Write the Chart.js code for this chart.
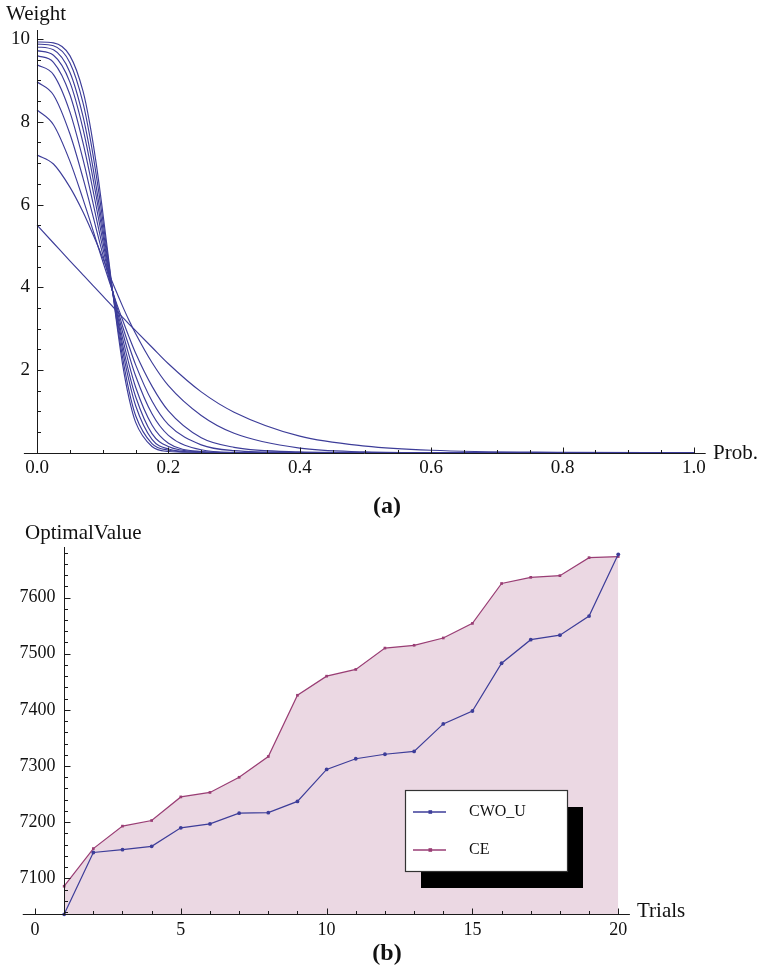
<!DOCTYPE html>
<html><head><meta charset="utf-8">
<script src="https://cdn.jsdelivr.net/npm/chart.js@4/dist/chart.umd.min.js"></script>
<style>
html,body{margin:0;padding:0;background:#fff;}
#wrap{position:relative;width:760px;height:968px;overflow:hidden;}
canvas{position:absolute;left:0;top:0;}
</style></head><body>
<div id="wrap">
<canvas id="ca" width="760" height="968"></canvas>
<canvas id="cb" width="760" height="968"></canvas>
</div>
<script>
// ---------- Panel (a): Weight vs Prob. ----------
const probValues = [0, 0.025, 0.05, 0.07, 0.08, 0.09, 0.1, 0.11, 0.12, 0.13, 0.14, 0.15, 0.175, 0.2, 0.25, 0.3, 0.4, 0.5, 0.6, 0.8, 1.0];
const weight1  = [9.93, 9.91, 9.60, 8.74, 7.98, 7.00, 5.82, 4.55, 3.28, 2.16, 1.32, 0.74, 0.15, 0.03, 0, 0, 0, 0, 0, 0, 0];
const weight2  = [9.88, 9.84, 9.43, 8.46, 7.68, 6.73, 5.63, 4.48, 3.34, 2.33, 1.50, 0.90, 0.22, 0.06, 0.005, 0, 0, 0, 0, 0, 0];
const weight3  = [9.81, 9.74, 9.20, 8.13, 7.35, 6.44, 5.44, 4.41, 3.41, 2.50, 1.74, 1.14, 0.32, 0.09, 0.01, 0, 0, 0, 0, 0, 0];
const weight4  = [9.72, 9.61, 8.96, 7.83, 7.07, 6.21, 5.29, 4.35, 3.46, 2.64, 1.93, 1.36, 0.46, 0.15, 0.02, 0, 0, 0, 0, 0, 0];
const weight5  = [9.60, 9.44, 8.66, 7.49, 6.76, 5.96, 5.13, 4.30, 3.51, 2.78, 2.14, 1.59, 0.67, 0.23, 0.03, 0.005, 0, 0, 0, 0, 0];
const weight6  = [9.38, 9.14, 8.24, 7.09, 6.41, 5.69, 4.96, 4.25, 3.56, 2.93, 2.36, 1.86, 0.94, 0.42, 0.07, 0.01, 0, 0, 0, 0, 0];
const weight7  = [8.97, 8.65, 7.71, 6.64, 6.04, 5.42, 4.80, 4.19, 3.62, 3.07, 2.58, 2.13, 1.25, 0.68, 0.19, 0.05, 0.005, 0, 0, 0, 0];
const weight8  = [8.29, 7.93, 7.05, 6.13, 5.64, 5.13, 4.63, 4.14, 3.66, 3.22, 2.80, 2.41, 1.61, 1.01, 0.36, 0.13, 0.02, 0.003, 0, 0, 0];
const weight9  = [7.20, 6.98, 6.42, 5.82, 5.47, 5.10, 4.71, 4.31, 3.92, 3.55, 3.20, 2.88, 2.18, 1.62, 0.90, 0.47, 0.11, 0.02, 0, 0, 0];
const weight10 = [5.50, 5.07, 4.64, 4.30, 4.13, 3.96, 3.79, 3.62, 3.45, 3.28, 3.11, 2.95, 2.55, 2.15, 1.47, 0.98, 0.40, 0.16, 0.06, 0.01, 0];
const weightCurves = [weight1, weight2, weight3, weight4, weight5, weight6, weight7, weight8, weight9, weight10];

const probTicks = [0, 0.2, 0.4, 0.6, 0.8, 1.0];
const probTickLabels = ['0.0', '0.2', '0.4', '0.6', '0.8', '1.0'];
const weightTicks = [2, 4, 6, 8, 10];
const weightTickLabels = ['2', '4', '6', '8', '10'];

// ---------- Panel (b): OptimalValue vs Trials ----------
const trials = [1, 2, 3, 4, 5, 6, 7, 8, 9, 10, 11, 12, 13, 14, 15, 16, 17, 18, 19, 20];
const cwoU = [7036, 7146, 7151, 7157, 7190, 7197, 7216, 7217, 7237, 7294, 7313, 7321, 7326, 7375, 7398, 7483, 7525, 7533, 7567, 7677];
const ce   = [7086, 7153, 7193, 7203, 7245, 7253, 7280, 7317, 7426, 7460, 7472, 7510, 7515, 7528, 7554, 7625, 7636, 7639, 7671, 7673];
const seriesNames = ['CWO_U', 'CE'];

const trialTicks = [0, 5, 10, 15, 20];
const trialTickLabels = ['0', '5', '10', '15', '20'];
const valueTicks = [7100, 7200, 7300, 7400, 7500, 7600];
const valueTickLabels = ['7100', '7200', '7300', '7400', '7500', '7600'];

const BLUE = '#3d3d99';
const PURPLE = '#993d74';
const FILL = 'rgba(153,61,116,0.2)';
const SERIF = '"Liberation Serif", "DejaVu Serif", serif';

function range(a, b, step) { const r = []; for (let v = a; v <= b + 1e-9; v += step) r.push(+v.toFixed(4)); return r; }

const mathAxes = {
  id: 'mathAxes',
  afterDraw(chart, args, o) {
    const { ctx, chartArea: ca } = chart;
    const xs = chart.scales.x, ys = chart.scales.y;
    const ax = Math.round(xs.getPixelForValue(o.yAxisAtX)) + 0.5;
    const ay = Math.round(ys.getPixelForValue(o.xAxisAtY)) + 0.5;
    ctx.save();
    ctx.strokeStyle = '#1a1a1a';
    ctx.lineWidth = 1;
    ctx.beginPath();
    ctx.moveTo(ca.left, ay); ctx.lineTo(ca.right, ay);
    ctx.moveTo(ax, ca.top); ctx.lineTo(ax, ay);
    o.xMinor.forEach(v => { const p = Math.round(xs.getPixelForValue(v)) + 0.5; ctx.moveTo(p, ay); ctx.lineTo(p, ay - 3.5); });
    o.xMajor.forEach(v => { const p = Math.round(xs.getPixelForValue(v)) + 0.5; ctx.moveTo(p, ay); ctx.lineTo(p, ay - 6); });
    o.yMinor.forEach(v => { const p = Math.round(ys.getPixelForValue(v)) + 0.5; ctx.moveTo(ax, p); ctx.lineTo(ax + 3.5, p); });
    o.yMajor.forEach(v => { const p = Math.round(ys.getPixelForValue(v)) + 0.5; ctx.moveTo(ax, p); ctx.lineTo(ax + 6, p); });
    ctx.stroke();

    ctx.fillStyle = '#111';
    ctx.font = o.tickFont + 'px ' + SERIF;
    ctx.textBaseline = 'middle';
    ctx.textAlign = 'center';
    o.xMajor.forEach((v, i) => ctx.fillText(o.xLabels[i], xs.getPixelForValue(v), ay + o.xGap));
    ctx.textAlign = 'right';
    o.yMajor.forEach((v, i) => ctx.fillText(o.yLabels[i], ax - o.yGap, ys.getPixelForValue(v)));

    ctx.font = '21px ' + SERIF;
    ctx.textAlign = 'left';
    ctx.fillText(o.xTitle, o.xTitlePos[0], o.xTitlePos[1]);
    ctx.fillText(o.yTitle, o.yTitlePos[0], o.yTitlePos[1]);

    ctx.font = 'bold 24px ' + SERIF;
    ctx.textAlign = 'center';
    ctx.fillText(o.panel, o.panelPos[0], o.panelPos[1]);

    if (o.legend) {
      const L = o.legend;
      ctx.fillStyle = '#000';
      ctx.fillRect(L.x + 16, L.y + 17, L.w, L.h);
      ctx.fillStyle = '#fff';
      ctx.fillRect(L.x, L.y, L.w, L.h);
      ctx.strokeStyle = '#333';
      ctx.lineWidth = 1.2;
      ctx.strokeRect(L.x + 0.5, L.y + 0.5, L.w, L.h);
      ctx.font = '16px ' + SERIF;
      ctx.textAlign = 'left';
      ctx.textBaseline = 'middle';
      chart.data.datasets.forEach((ds, i) => {
        const yy = L.y + 22 + i * 38;
        ctx.strokeStyle = ds.borderColor;
        ctx.lineWidth = 1.3;
        ctx.beginPath(); ctx.moveTo(L.x + 8, yy); ctx.lineTo(L.x + 41, yy); ctx.stroke();
        ctx.fillStyle = ds.borderColor;
        ctx.fillRect(L.x + 23.5, yy - 1.8, 3.6, 3.6);
        ctx.fillStyle = '#111';
        ctx.fillText(ds.label, L.x + 64, yy);
      });
    }
    ctx.restore();
  }
};

// ----- Chart (a)
new Chart(document.getElementById('ca'), {
  type: 'line',
  data: {
    datasets: weightCurves.map((w, i) => ({
      label: 'curve' + (i + 1),
      data: probValues.map((p, j) => ({ x: p, y: w[j] })),
      borderColor: BLUE,
      borderWidth: 1.15,
      pointRadius: 0,
      fill: false,
      cubicInterpolationMode: 'monotone'
    }))
  },
  options: {
    responsive: false,
    animation: false,
    events: [],
    layout: { padding: { left: 23.9, right: 54.3, top: 30, bottom: 515.3 } },
    scales: {
      x: { type: 'linear', min: -0.02, max: 1.018, display: false },
      y: { type: 'linear', min: 0, max: 10.22, display: false }
    },
    plugins: {
      legend: { display: false },
      tooltip: { enabled: false },
      mathAxes: {
        yAxisAtX: 0, xAxisAtY: 0,
        xMajor: probTicks, xLabels: probTickLabels, xMinor: range(0, 1.0, 0.05),
        yMajor: weightTicks, yLabels: weightTickLabels, yMinor: range(0.5, 10, 0.5),
        tickFont: 19, xGap: 14.5, yGap: 7.5,
        xTitle: 'Prob.', xTitlePos: [713, 453],
        yTitle: 'Weight', yTitlePos: [6, 14],
        panel: '(a)', panelPos: [387, 507]
      }
    }
  },
  plugins: [mathAxes]
});

// ----- Chart (b)
new Chart(document.getElementById('cb'), {
  type: 'line',
  data: {
    datasets: [
      {
        label: seriesNames[0],
        data: trials.map((t, j) => ({ x: t, y: cwoU[j] })),
        borderColor: BLUE, backgroundColor: BLUE,
        borderWidth: 1.2, pointRadius: 1.9, pointStyle: 'circle',
        pointBorderWidth: 0, fill: false, tension: 0, clip: false
      },
      {
        label: seriesNames[1],
        data: trials.map((t, j) => ({ x: t, y: ce[j] })),
        borderColor: PURPLE, backgroundColor: FILL,
        pointBackgroundColor: PURPLE,
        borderWidth: 1.2, pointRadius: 1.9, pointStyle: 'rect',
        pointBorderWidth: 0, fill: 'start', tension: 0, clip: false
      }
    ]
  },
  options: {
    responsive: false,
    animation: false,
    events: [],
    layout: { padding: { left: 22.75, right: 130.1, top: 547, bottom: 53.7 } },
    scales: {
      x: { type: 'linear', min: -0.42, max: 20.4, display: false },
      y: { type: 'linear', min: 7036, max: 7690, display: false }
    },
    plugins: {
      legend: { display: false },
      tooltip: { enabled: false },
      filler: { propagate: false },
      mathAxes: {
        yAxisAtX: 1, xAxisAtY: 7036,
        xMajor: trialTicks, xLabels: trialTickLabels, xMinor: range(0, 20, 1),
        yMajor: valueTicks, yLabels: valueTickLabels, yMinor: range(7040, 7680, 20),
        tickFont: 18, xGap: 16, yGap: 9,
        xTitle: 'Trials', xTitlePos: [637, 911],
        yTitle: 'OptimalValue', yTitlePos: [25, 533],
        panel: '(b)', panelPos: [387, 954],
        legend: { x: 405, y: 790, w: 162, h: 81 }
      }
    }
  },
  plugins: [mathAxes]
});
</script>
</body></html>
